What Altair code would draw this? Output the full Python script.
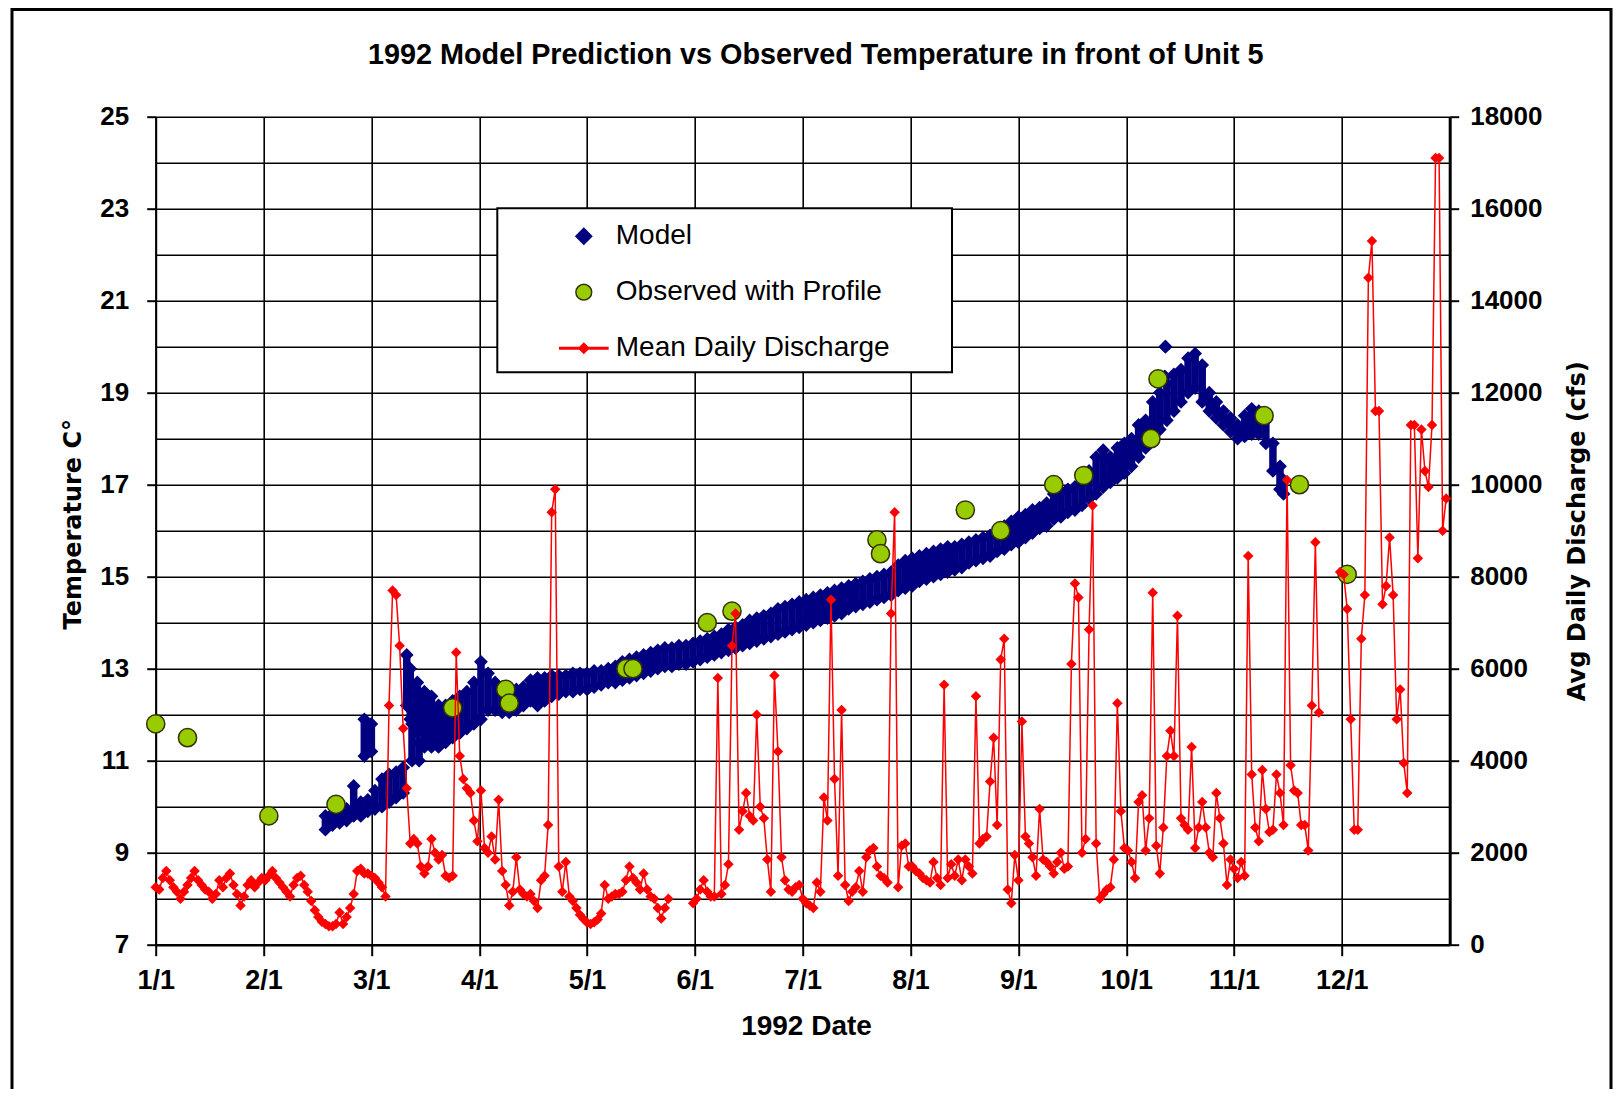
import altair as alt
import pandas as pd

# ---------------- categories / axis ticks ----------------
month_labels = ['1/1', '2/1', '3/1', '4/1', '5/1', '6/1', '7/1', '8/1', '9/1', '10/1', '11/1', '12/1']
month_step = 30.5          # axis units (days) between date gridlines
tick_vals = [k * month_step for k in range(len(month_labels))]
temp_ticks = list(range(7, 26))
q_ticks = list(range(0, 18001, 2000))

series_names = ['Model', 'Observed with Profile', 'Mean Daily Discharge']

# ---------------- mean daily discharge (cfs), one value per day, None = missing ----------------
q_jan = [1250, 1200, 1450, 1600, 1400, 1250, 1150, 1000, 1150, 1300, 1450, 1600, 1400, 1300, 1200, 1150,
         1000, 1100, 1400, 1250, 1450, 1550, 1300, 1100, 850, 1050, 1300, 1400, 1250, 1350, 1450]
q_feb = [1400, 1500, 1600, 1450, 1350, 1250, 1150, 1050, 1300, 1450, 1500, 1300, 1150, 950, 750, 600,
         500, 450, 400, 400, 450, 700, 450, 600, 800, 1100, 1600, 1650, 1550]
q_mar = [1550, 1500, 1450, 1350, 1250, 1050, 5200, 7700, 7600, 6500, 4700, 3400, 2200, 2300, 2200, 1700,
         1550, 1700, 2300, 2000, 1850, 1950, 1500, 1450, 1500, 6350, 4100, 3600, 3400, 3300, 2700]
q_apr = [2250, 3350, 2100, 2000, 2350, 1850, 3150, 1600, 1300, 850, 1150, 1900, 1200, 1100, 1050,
         1100, 950, 800, 1400, 1500, 2600, 9400, 9900, 1700, 1150, 1800, 1050, 950, 800, 650]
q_may = [560, 480, 450, 490, 550, 680, 1300, 1000, 1050, 1100, 1100, 1150, 1400, 1700, 1450, 1350,
         1200, 1550, 1200, 1050, 1000, 800, 570, 800, 1000, None, None, None, None, None, None]
q_jun = [900, 1000, 1200, 1400, 1150, 1050, 1050, 5800, 1100, 1300, 1750, 6500, 7200, 2500, 2900,
         3300, 2800, 2700, 5000, 3000, 2750, 1850, 1150, 5850, 4200, 1900, 1400, 1200, 1150, 1250]
q_jul = [1300, 1000, 900, 850, 800, 1350, 1150, 3200, 2700, 7500, 3600, 1500, 5100, 1300, 950, 1150,
         1250, 1600, 1150, 1900, 2050, 2100, 1700, 1500, 1450, 1350, 7200, 9400, 1250, 2150, 2200]
q_aug = [1700, 1700, 1600, 1550, 1450, 1400, 1350, 1800, 1450, 1300, 5650, 1450, 1750, 1500, 1850, 1400,
         1850, 1700, 1550, 5400, 2200, 2300, 2350, 3550, 4500, 2600, 6200, 6650, 1200, 900, 1950]
q_sep = [1400, 4850, 2350, 2200, 1900, 1500, 2950, 1850, 1800, 1700, 1550, 1800, 2000, 1650, 1700,
         6100, 7850, 7550, 2000, 2300, 6850, 9550, 2200, 1000, 1100, 1200, 1250, 1850, 5250, 2900]
q_oct = [2100, 2050, 1800, 1450, 3100, 3250, 2050, 2750, 7650, 2150, 1550, 2550, 4100, 4650, 4100, 7150,
         2750, 2600, 2500, 4300, 2100, 2550, 3100, 2550, 2000, 1900, 3300, 2750, 2200, 1300, 1850]
q_nov = [1650, 1450, 1800, 1500, 8450, 3700, 2550, 2250, 3800, 2950, 2450, 2500, 3700, 3300, 2600,
         10100, 3900, 3350, 3300, 2600, 2600, 2050, 5200, 8750, 5050, None, None, None, None, None]
q_dec = [8100, 8050, 7300, 4900, 2500, 2500, 6650, 7600, 14500, 15300, 11600, 11600, 7400, 7800, 8850, 7600,
         4900, 5550, 3950, 3300, 11300, 11300, 8400, 11200, 10300, 9950, 11300, 17100, 17100, 9000, 9700]
discharge = q_jan + q_feb + q_mar + q_apr + q_may + q_jun + q_jul + q_aug + q_sep + q_oct + q_nov + q_dec

# ---------------- model temperature band (day, low, high) ----------------
model_day = [48, 50, 52, 54, 56, 58, 59, 60, 61, 62,
             64, 66, 68, 70, 71, 72, 72.5, 74, 74.5, 76,
             78, 80, 82, 84, 86, 88, 90, 92, 94, 96,
             98, 100, 102, 104, 106, 108, 110, 112, 114, 116,
             118, 120, 122, 124, 126, 128, 130, 132, 134, 136,
             138, 140, 142, 144, 146, 148, 150, 152, 154, 156,
             158, 160, 162, 164, 166, 168, 170, 172, 174, 176,
             178, 180, 182, 184, 186, 188, 190, 192, 194, 196,
             198, 200, 202, 204, 206, 208, 210, 212, 214, 216,
             218, 220, 222, 224, 226, 228, 230, 232, 234, 236,
             238, 240, 242, 244, 246, 248, 250, 252, 254, 256,
             258, 260, 262, 264, 266, 268, 270, 272, 274, 276,
             278, 280, 282, 284, 285.4, 285.6, 286, 288, 290, 292,
             294, 296, 298, 300, 302, 304, 306, 308, 310, 312,
             314, 316, 318, 319]
model_lo = [9.50, 9.60, 9.65, 9.70, 9.80, 9.80, 11.10, 9.90, 11.20, 9.95,
            10.00, 10.10, 10.20, 10.30, 12.20, 11.90, 11.00, 11.60, 11.00, 11.30,
            11.30, 11.30, 11.40, 11.50, 11.60, 11.70, 11.80, 11.90, 12.10, 12.10,
            12.05, 12.05, 12.10, 12.20, 12.30, 12.20, 12.30, 12.40, 12.45, 12.50,
            12.50, 12.55, 12.55, 12.60, 12.65, 12.70, 12.70, 12.75, 12.80, 12.85,
            12.90, 12.95, 13.00, 13.05, 13.05, 13.10, 13.10, 13.15, 13.20, 13.25,
            13.30, 13.35, 13.40, 13.45, 13.50, 13.55, 13.60, 13.65, 13.70, 13.75,
            13.80, 13.85, 13.90, 13.95, 14.00, 14.05, 14.10, 14.15, 14.20, 14.30,
            14.35, 14.40, 14.45, 14.50, 14.55, 14.60, 14.70, 14.75, 14.80, 14.90,
            14.95, 15.00, 15.05, 15.10, 15.15, 15.20, 15.30, 15.35, 15.40, 15.45,
            15.55, 15.60, 15.70, 15.75, 15.85, 15.95, 16.05, 16.10, 16.25, 16.30,
            16.40, 16.45, 16.55, 16.70, 16.80, 16.95, 17.05, 17.15, 17.25, 17.40,
            17.60, 17.80, 18.00, 18.20, 19.35, 20.00, 18.40, 18.60, 18.80, 19.00,
            19.10, 18.80, 18.60, 18.45, 18.30, 18.15, 18.00, 18.05, 18.10, 18.10,
            17.90, 17.30, 16.90, 16.80]
model_hi = [9.80, 9.85, 9.90, 9.95, 10.45, 10.10, 11.90, 10.15, 11.80, 10.35,
            10.60, 10.70, 10.75, 10.85, 13.30, 13.00, 11.80, 12.70, 11.40, 12.50,
            12.40, 12.20, 12.20, 12.30, 12.40, 12.50, 12.70, 13.15, 12.90, 12.70,
            12.60, 12.50, 12.55, 12.60, 12.75, 12.80, 12.80, 12.85, 12.85, 12.85,
            12.90, 12.90, 12.90, 12.95, 12.95, 13.00, 13.05, 13.15, 13.20, 13.25,
            13.30, 13.35, 13.40, 13.45, 13.45, 13.50, 13.50, 13.55, 13.60, 13.65,
            13.70, 13.75, 13.85, 13.90, 13.95, 14.05, 14.10, 14.15, 14.20, 14.30,
            14.35, 14.40, 14.45, 14.50, 14.55, 14.60, 14.65, 14.70, 14.75, 14.80,
            14.85, 14.90, 14.95, 15.00, 15.05, 15.10, 15.25, 15.35, 15.40, 15.45,
            15.50, 15.55, 15.60, 15.65, 15.65, 15.70, 15.75, 15.80, 15.85, 15.90,
            16.00, 16.10, 16.20, 16.30, 16.35, 16.45, 16.50, 16.60, 16.80, 16.85,
            16.90, 16.95, 17.05, 17.30, 17.60, 17.75, 17.60, 17.80, 17.90, 18.00,
            18.30, 18.40, 18.80, 19.00, 19.35, 20.00, 19.20, 19.40, 19.50, 19.75,
            19.85, 19.60, 19.00, 18.80, 18.60, 18.45, 18.30, 18.50, 18.65, 18.60,
            18.40, 17.90, 17.40, 17.10]

# ---------------- observed with profile ----------------
obs_day = [0, 9, 32, 51, 84, 99, 100, 133, 135, 156, 163, 204, 205, 229, 239, 254, 262.5, 281.5,
           283.5, 313.5, 323.5, 337]
obs_temp = [11.8, 11.5, 9.8, 10.05, 12.15, 12.55, 12.25, 13.0, 13.0, 14.0, 14.25, 15.8, 15.5, 16.45,
            16.0, 17.0, 17.2, 18.0, 19.3, 18.5, 17.0, 15.05]

# ---------------- tables ----------------
q_rows = []
seg = 0
gap = False
for d, q in enumerate(discharge):
    if q is None:
        gap = True
        continue
    if gap:
        seg += 1
        gap = False
    q_rows.append({'day': d, 'q': q, 'seg': seg})
q_df = pd.DataFrame(q_rows)

band_df = pd.DataFrame({'day': model_day, 'lo': model_lo, 'hi': model_hi})
model_pts = pd.concat([
    pd.DataFrame({'day': model_day, 'temp': model_lo}),
    pd.DataFrame({'day': model_day, 'temp': model_hi}),
])
model_pts['series'] = 'Model'
obs_df = pd.DataFrame({'day': obs_day, 'temp': obs_temp})
obs_df['series'] = 'Observed with Profile'

# ---------------- styling ----------------
ARIAL = 'Liberation Sans'
VERDANA = 'DejaVu Sans'
NAVY = '#000080'
GREEN = '#99CC00'
RED = '#FF0000'

label_expr = "[" + ",".join("'%s'" % m for m in month_labels) + "][round(datum.value / %s)]" % month_step

x_axis = alt.Axis(values=tick_vals, labelExpr=label_expr, grid=True, gridColor='black', gridWidth=1.6,
                  tickSize=11, tickWidth=2, tickColor='black', domainColor='black', domainWidth=2.5,
                  labelFont=ARIAL, labelFontSize=27, labelFontWeight='bold', labelColor='black',
                  labelPadding=12, labelAngle=0, labelFlush=False, labelOverlap=False,
                  title='1992 Date', titleFont=ARIAL, titleFontSize=28, titleFontWeight='bold',
                  titleColor='black', titleX=650.3, titleY=81.5, titleAlign='center', titleBaseline='middle')
x_scale = alt.Scale(domain=[0, 366], nice=False, zero=False)
X = alt.X('day:Q', scale=x_scale, axis=x_axis)

t_axis = alt.Axis(orient='left', values=temp_ticks,
                  labelExpr="datum.value % 2 == 1 ? datum.label : ''",
                  tickOpacity={'condition': {'test': 'datum.value % 2 == 0', 'value': 0}, 'value': 1},
                  grid=True, gridColor='black', gridWidth=1.6,
                  tickSize=9, tickWidth=2, tickColor='black', domainColor='black', domainWidth=2,
                  labelFont=ARIAL, labelFontSize=26, labelFontWeight='bold', labelColor='black',
                  labelPadding=18, labelOverlap=False,
                  title='Temperature C°', titleFont=VERDANA, titleFontSize=24, titleFontWeight='bold',
                  titleColor='black', titleAngle=270, titleX=-82.3, titleY=407,
                  titleAlign='center', titleBaseline='middle')
t_scale = alt.Scale(domain=[7, 25], nice=False, zero=False)

q_axis = alt.Axis(orient='right', values=q_ticks, format='d', grid=False,
                  tickSize=9, tickWidth=2, tickColor='black', domainColor='black', domainWidth=3,
                  labelFont=ARIAL, labelFontSize=26, labelFontWeight='bold', labelColor='black',
                  labelPadding=11, labelOverlap=False,
                  title='Avg Daily Discharge (cfs)', titleFont=VERDANA, titleFontSize=24,
                  titleFontWeight='bold', titleColor='black', titleAngle=270, titleX=128.1, titleY=414,
                  titleAlign='center', titleBaseline='middle')
q_scale = alt.Scale(domain=[0, 18000], nice=False, zero=False)

red_legend_path = 'M-3.05,-0.1L3.05,-0.1L3.05,0.1L-3.05,0.1Z M0,-0.63L0.63,0L0,0.63L-0.63,0Z'
legend = alt.Legend(title=None, orient='none', legendX=339.3, legendY=93.5, direction='vertical',
                    padding=12, rowPadding=28,
                    labelFont=ARIAL, labelFontSize=28, labelColor='black', labelLimit=700,
                    labelOffset=18, symbolOffset=62.8, symbolSize=250, symbolStrokeWidth=1.5)
fill_enc = alt.Fill('series:N', scale=alt.Scale(domain=series_names, range=[NAVY, GREEN, RED]), legend=legend)
stroke_enc = alt.Stroke('series:N', scale=alt.Scale(domain=series_names, range=[NAVY, '#333300', RED]),
                        legend=legend)
shape_enc = alt.Shape('series:N', scale=alt.Scale(domain=series_names,
                                                  range=['diamond', 'circle', red_legend_path]),
                      legend=legend)

# ---------------- layers ----------------
one_row = alt.Data(values=[{}])
frame = alt.Chart(one_row).mark_rect(filled=False, color='black', strokeWidth=3).encode(
    x=alt.value(-143.7), x2=alt.value(1455.3), y=alt.value(-107.2), y2=alt.value(1000)
)
legend_box = alt.Chart(one_row).mark_rect(fill='white', stroke='black', strokeWidth=2).encode(
    x=alt.value(341.6), x2=alt.value(796.3), y=alt.value(91.6), y2=alt.value(255.6)
)

band = alt.Chart(band_df).mark_rule(color=NAVY, strokeWidth=7.5).encode(
    x=X, y=alt.Y('lo:Q', scale=t_scale, axis=t_axis), y2='hi:Q'
)
model = alt.Chart(model_pts).mark_point(filled=True, size=120, opacity=1).encode(
    x=X, y=alt.Y('temp:Q', scale=t_scale, axis=t_axis),
    fill=fill_enc, stroke=stroke_enc, shape=shape_enc
)
observed = alt.Chart(obs_df).mark_point(filled=True, size=330, strokeWidth=1.5, opacity=1).encode(
    x=X, y=alt.Y('temp:Q', scale=t_scale, axis=t_axis),
    fill=fill_enc, stroke=stroke_enc, shape=shape_enc
)
temp_layer = alt.layer(frame, legend_box, band, model, observed)

q_line = alt.Chart(q_df).mark_line(color=RED, strokeWidth=1.5).encode(
    x=X, y=alt.Y('q:Q', scale=q_scale, axis=q_axis), detail='seg:N'
)
q_pts = alt.Chart(q_df).mark_point(shape='diamond', filled=True, size=110, color=RED, opacity=1).encode(
    x=X, y=alt.Y('q:Q', scale=q_scale, axis=q_axis)
)
q_layer = alt.layer(q_line, q_pts)

chart = alt.layer(temp_layer, q_layer).resolve_scale(y='independent').properties(
    width=1294, height=828,
    title=alt.TitleParams('1992 Model Prediction vs Observed Temperature in front of Unit 5',
                          font=ARIAL, fontSize=28.8, fontWeight='bold', color='black',
                          anchor='middle', frame='group', offset=0, dx=13, dy=84.5, baseline='alphabetic'),
    autosize=alt.AutoSizeParams(type='none'),
    padding={'left': 147.7, 'top': 108.7, 'right': 163.3, 'bottom': 144.3},
    background='white'
).configure_view(stroke=None)

chart.save('out.html', embed_options={'renderer': 'svg', 'actions': False})
